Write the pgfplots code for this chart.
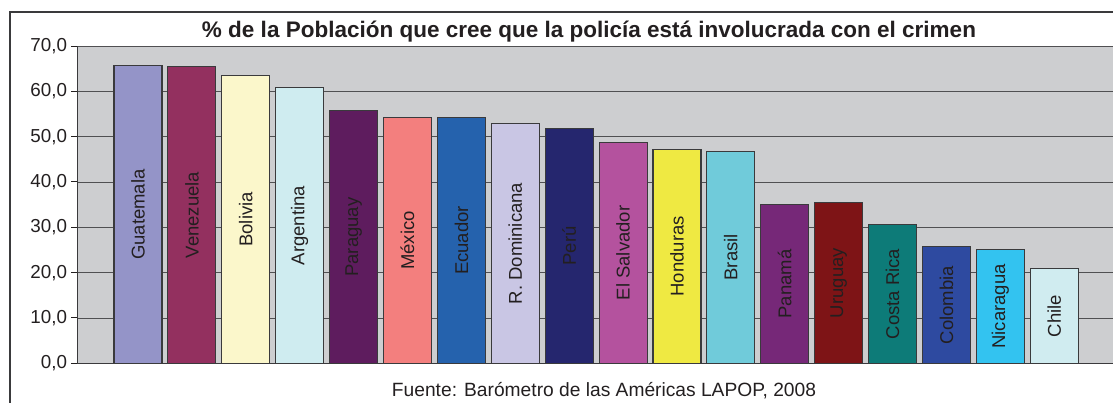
\documentclass[border=0pt]{standalone}
\usepackage{fontspec}
\setmainfont{Liberation Sans}
\usepackage{pgfplots}
\pgfplotsset{compat=1.18}
\definecolor{bg}{HTML}{CDCED0}
\definecolor{gridc}{HTML}{505052}
\definecolor{edge}{HTML}{3A3A3C}
\definecolor{txt}{HTML}{231F20}
\definecolor{c1}{HTML}{9494C8}
\definecolor{c2}{HTML}{93305F}
\definecolor{c3}{HTML}{FBF7CB}
\definecolor{c4}{HTML}{CFECF0}
\definecolor{c5}{HTML}{5E1C5E}
\definecolor{c6}{HTML}{F37F7E}
\definecolor{c7}{HTML}{2562AD}
\definecolor{c8}{HTML}{C9C6E4}
\definecolor{c9}{HTML}{25266E}
\definecolor{c10}{HTML}{B4529E}
\definecolor{c11}{HTML}{EFE942}
\definecolor{c12}{HTML}{70CBDA}
\definecolor{c13}{HTML}{762878}
\definecolor{c14}{HTML}{7E1416}
\definecolor{c15}{HTML}{0D7B78}
\definecolor{c16}{HTML}{2E4AA0}
\definecolor{c17}{HTML}{33C3F0}
\definecolor{c18}{HTML}{D0ECF0}
\begin{document}
\begin{tikzpicture}[x=1pt,y=1pt]
\useasboundingbox (0,0) rectangle (1113,402);
\draw[line width=1.5pt, color=edge] (10,-10) -- (10,390) -- (1130,390);
\begin{axis}[
  at={(77pt,38.7pt)}, anchor=south west,
  scale only axis, width=1036pt, height=317.3pt,
  xmin=-1.132, xmax=18.09, ymin=0, ymax=70,
  axis lines*=left,
  axis line style={color=edge, line width=1pt},
  axis background/.style={fill=bg},
  xtick=\empty,
  ytick={0,10,20,30,40,50,60,70},
  tick align=outside, major tick length=6pt,
  tick style={color=txt, line width=1pt},
  ymajorgrids, grid style={color=gridc, line width=0.9pt},
  /pgf/number format/.cd, fixed, fixed zerofill, precision=1, use comma, assume math mode=true,
  /pgfplots/.cd,
  yticklabel style={font=\fontsize{18.8}{20}\selectfont, color=txt, xshift=-0.5pt},
  ybar, bar width=48pt, bar shift=0pt,
  every axis plot/.append style={draw=edge, line width=1.1pt},
  clip=false,
]
\addplot[fill=c1] coordinates {(0,65.6)};
\addplot[fill=c2] coordinates {(1,65.4)};
\addplot[fill=c3] coordinates {(2,63.5)};
\addplot[fill=c4] coordinates {(3,60.8)};
\addplot[fill=c5] coordinates {(4,55.7)};
\addplot[fill=c6] coordinates {(5,54.2)};
\addplot[fill=c7] coordinates {(6,54.2)};
\addplot[fill=c8] coordinates {(7,52.9)};
\addplot[fill=c9] coordinates {(8,51.8)};
\addplot[fill=c10] coordinates {(9,48.7)};
\addplot[fill=c11] coordinates {(10,47.2)};
\addplot[fill=c12] coordinates {(11,46.8)};
\addplot[fill=c13] coordinates {(12,35.0)};
\addplot[fill=c14] coordinates {(13,35.4)};
\addplot[fill=c15] coordinates {(14,30.6)};
\addplot[fill=c16] coordinates {(15,25.7)};
\addplot[fill=c17] coordinates {(16,25.1)};
\addplot[fill=c18] coordinates {(17,20.9)};
\begin{scope}[every node/.style={rotate=90, color=txt, font=\fontsize{18.5}{20}\selectfont, inner sep=0pt}]
\node at (axis cs:0,32.8) {Guatemala};
\node at (axis cs:1,32.7) {Venezuela};
\node at (axis cs:2,31.75) {Bolivia};
\node at (axis cs:3,30.4) {Argentina};
\node at (axis cs:4,27.85) {Paraguay};
\node at (axis cs:5,27.1) {México};
\node at (axis cs:6,27.1) {Ecuador};
\node at (axis cs:7,26.45) {R. Dominicana};
\node at (axis cs:8,25.9) {Perú};
\node at (axis cs:9,24.35) {El Salvador};
\node at (axis cs:10,23.6) {Honduras};
\node at (axis cs:11,23.4) {Brasil};
\node at (axis cs:12,17.5) {Panamá};
\node at (axis cs:13,17.7) {Uruguay};
\node at (axis cs:14,15.3) {Costa Rica};
\node at (axis cs:15,12.85) {Colombia};
\node at (axis cs:16,12.55) {Nicaragua};
\node at (axis cs:17,10.45) {Chile};
\end{scope}
\end{axis}
\node[anchor=base, color=txt, font=\bfseries\fontsize{22.5}{24}\selectfont] at (589,364) {\% de la Población que cree que la policía está involucrada con el crimen};
\node[anchor=base, color=txt, font=\fontsize{19.2}{21}\selectfont] at (604,6) {Fuente: Barómetro de las Américas LAPOP, 2008};
\end{tikzpicture}
\end{document}
